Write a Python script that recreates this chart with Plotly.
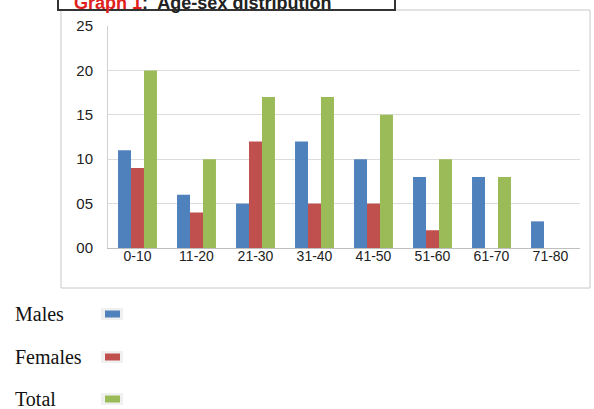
import plotly.graph_objects as go

categories = ["0-10", "11-20", "21-30", "31-40", "41-50", "51-60", "61-70", "71-80"]
males = [11, 6, 5, 12, 10, 8, 8, 3]
females = [9, 4, 12, 5, 5, 2, 0, 0]
total = [20, 10, 17, 17, 15, 10, 8, 0]
series_names = ["Males", "Females", "Total"]
series_colors = ["#4F81BD", "#C0504D", "#9BBB59"]
y_ticks = [0, 5, 10, 15, 20, 25]

W, H = 594, 409
L, R, T, B = 108, 14, 26, 161
PW = W - L - R
PH = H - T - B


def px(x):
    return (x - L) / PW


def py(y):
    return (H - B - y) / PH


fig = go.Figure()
for name, vals, col in zip(series_names, [males, females, total], series_colors):
    fig.add_trace(go.Bar(x=categories, y=vals, name=name, marker_color=col,
                         marker_line_width=0, showlegend=False))

shapes = [
    # outer chart frame
    dict(type="rect", xref="paper", yref="paper", x0=px(61), x1=px(590), y0=py(288), y1=py(10),
         line=dict(color="#c8c8c8", width=1), layer="below"),
    # title box
    dict(type="rect", xref="paper", yref="paper", x0=px(58), x1=px(395), y0=py(10), y1=py(-6),
         line=dict(color="#333333", width=2), fillcolor="white"),
]
annotations = [
    dict(xref="paper", yref="paper", x=px(72), y=py(3), xanchor="left", yanchor="middle",
         showarrow=False,
         text="<b><span style='color:#e0201b'>Graph 1</span>:  Age-sex distribution</b>",
         font=dict(family="Liberation Sans", size=18, color="#222222")),
]
legend_y = [314, 357, 399]
for name, col, yc in zip(series_names, series_colors, legend_y):
    annotations.append(dict(xref="paper", yref="paper", x=px(13), y=py(yc), xanchor="left",
                            yanchor="middle", showarrow=False, text=name,
                            font=dict(family="Liberation Serif", size=20, color="#111111")))
    shapes.append(dict(type="rect", xref="paper", yref="paper", x0=px(101), x1=px(123),
                       y0=py(yc + 6), y1=py(yc - 6), line=dict(width=0), fillcolor="#f0f0f0"))
    shapes.append(dict(type="rect", xref="paper", yref="paper", x0=px(105), x1=px(120),
                       y0=py(yc + 3.5), y1=py(yc - 3.5), line=dict(width=0), fillcolor=col))

fig.update_layout(
    width=W, height=H,
    margin=dict(l=L, r=R, t=T, b=B, pad=0),
    paper_bgcolor="white", plot_bgcolor="white",
    barmode="group", bargap=0.34, bargroupgap=0,
    font=dict(family="Liberation Sans", color="#222222"),
    shapes=shapes, annotations=annotations,
    xaxis=dict(type="category", showgrid=False, showline=True, linecolor="#bfbfbf",
               ticks="", ticklabelstandoff=-5, tickfont=dict(size=14, color="#222222"),
               zeroline=False),
    yaxis=dict(range=[0, 25], tickvals=y_ticks, tickformat="02d", showgrid=True,
               gridcolor="#dcdcdc", showline=True, linecolor="#d0d0d0", zeroline=False,
               ticks="", ticklabelstandoff=11, tickfont=dict(size=15, color="#222222")),
)

fig.write_html("out.html", config={"displayModeBar": False},
               post_script="document.body.style.margin='0';")
